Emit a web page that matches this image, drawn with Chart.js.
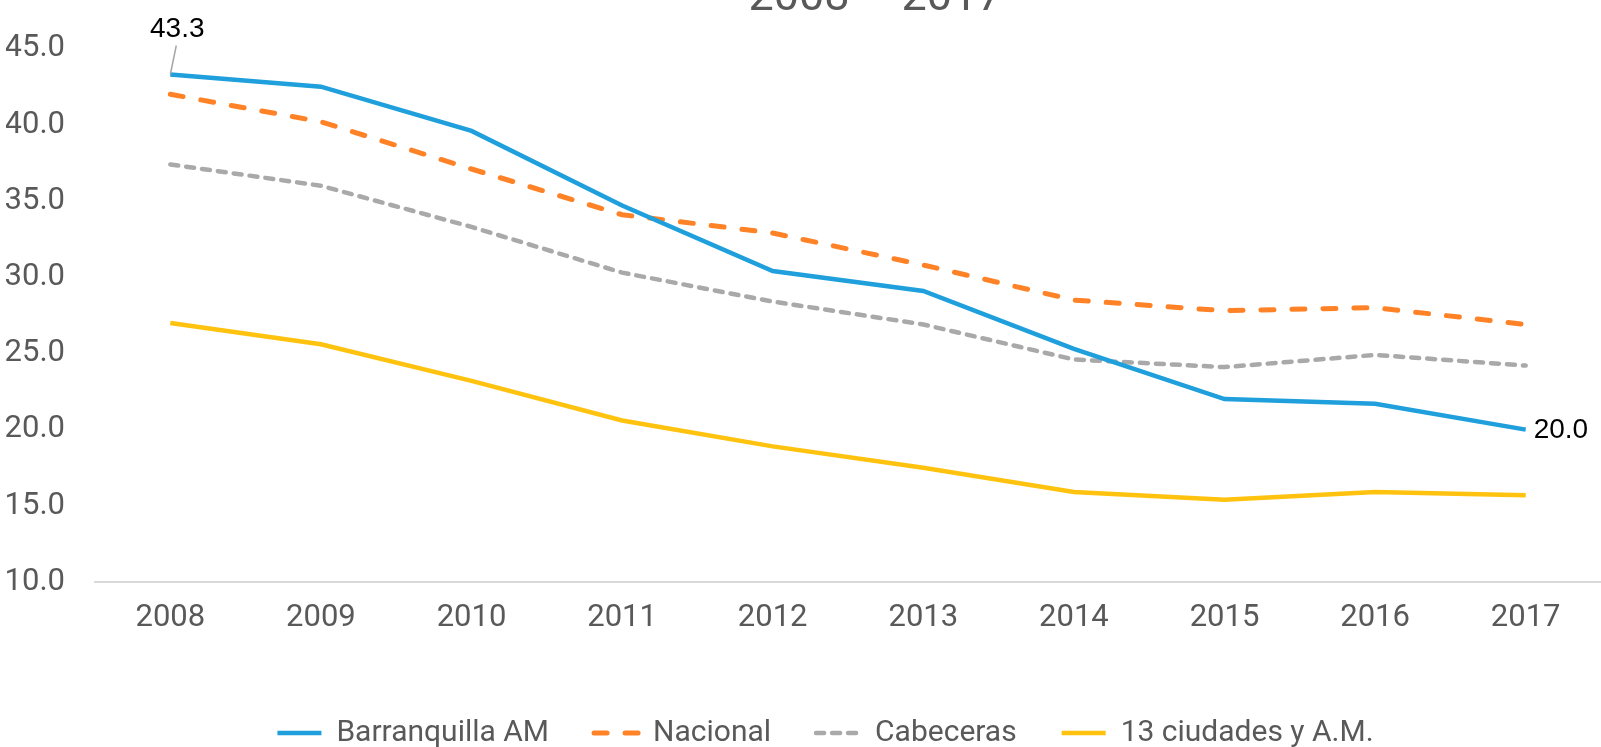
<!DOCTYPE html>
<html lang="es">
<head>
<meta charset="utf-8">
<title>Pobreza 2008 - 2017</title>
<script src="https://cdn.jsdelivr.net/npm/chart.js@4.4.1/dist/chart.umd.min.js"></script>
<style>
  html, body { margin: 0; padding: 0; background: #fff; overflow: hidden; }
  canvas { display: block; }
</style>
</head>
<body>
<canvas id="povertyChart" width="1601" height="747"></canvas>
<script>
  // data
  const years = ["2008", "2009", "2010", "2011", "2012", "2013", "2014", "2015", "2016", "2017"];
  const barranquilla = [43.3, 42.5, 39.6, 34.7, 30.4, 29.1, 25.3, 22.0, 21.7, 20.0];
  const nacional = [42.0, 40.2, 37.1, 34.1, 32.9, 30.8, 28.5, 27.8, 28.0, 26.9];
  const cabeceras = [37.4, 36.0, 33.3, 30.3, 28.4, 26.9, 24.6, 24.1, 24.9, 24.2];
  const ciudades13 = [27.0, 25.6, 23.2, 20.6, 18.9, 17.5, 15.9, 15.4, 15.9, 15.7];
  const seriesNames = ["Barranquilla AM", "Nacional", "Cabeceras", "13 ciudades y A.M."];
  const titleText = "2008 – 2017";

  const FONT = "Roboto, 'Liberation Sans', sans-serif";
  const GREY_TEXT = "#595959";

  // the legend sits a bit lower and right of where chart.js centres it
  const legendShift = {
    id: "legendShift",
    afterLayout(chart) {
      const lg = chart.legend;
      lg.top += 11; lg.bottom += 11;
      lg.left += 22; lg.right += 22;
    }
  };

  // first and last value labels of the Barranquilla line + partly cut title
  const labelPlugin = {
    id: "labelPlugin",
    afterDatasetsDraw(chart) {
      const ctx = chart.ctx;
      const pts = chart.getDatasetMeta(0).data;
      const first = pts[0], last = pts[pts.length - 1];
      ctx.save();
      // leader line
      ctx.strokeStyle = "#a6a6a6";
      ctx.lineWidth = 1.5;
      ctx.beginPath();
      ctx.moveTo(first.x, first.y);
      ctx.lineTo(first.x + 6, first.y - 29);
      ctx.stroke();
      ctx.fillStyle = "#000";
      ctx.font = "28px 'Liberation Sans', Arial, sans-serif";
      ctx.textAlign = "center";
      ctx.textBaseline = "middle";
      ctx.fillText(barranquilla[0].toFixed(1), first.x + 7, first.y - 45);
      ctx.textAlign = "left";
      ctx.fillText(barranquilla[barranquilla.length - 1].toFixed(1), last.x + 8, last.y + 1);
      // title, only its lower part shows
      ctx.fillStyle = GREY_TEXT;
      ctx.font = "45px " + FONT;
      ctx.textAlign = "center";
      ctx.textBaseline = "alphabetic";
      ctx.fillText(titleText, chart.width / 2 + 75, 10);
      ctx.restore();
    }
  };

  const ctx = document.getElementById("povertyChart").getContext("2d");
  const povertyChart = new Chart(ctx, {
    type: "line",
    data: {
      labels: years,
      datasets: [
        {
          label: seriesNames[0],
          data: barranquilla,
          borderColor: "#1f9fdb",
          backgroundColor: "#1f9fdb",
          borderWidth: 4.5
        },
        {
          label: seriesNames[1],
          data: nacional,
          borderColor: "#ff8226",
          backgroundColor: "#ff8226",
          borderWidth: 5,
          borderDash: [13, 18],
          borderCapStyle: "round"
        },
        {
          label: seriesNames[2],
          data: cabeceras,
          borderColor: "#a9a9a9",
          backgroundColor: "#a9a9a9",
          borderWidth: 4.5,
          borderDash: [8, 8],
          borderCapStyle: "round"
        },
        {
          label: seriesNames[3],
          data: ciudades13,
          borderColor: "#ffc20e",
          backgroundColor: "#ffc20e",
          borderWidth: 4.5
        }
      ]
    },
    options: {
      responsive: false,
      animation: false,
      devicePixelRatio: 1,
      elements: { point: { radius: 0, hoverRadius: 0 }, line: { tension: 0 } },
      layout: { padding: { top: 47, right: 0, left: 6, bottom: 0 } },
      plugins: {
        title: { display: false },
        tooltip: { enabled: false },
        legend: {
          position: "bottom",
          labels: {
            usePointStyle: true,
            pointStyle: "line",
            pointStyleWidth: 44,
            padding: 45,
            color: GREY_TEXT,
            font: { family: FONT, size: 30 },
            generateLabels(chart) {
              const items = Chart.defaults.plugins.legend.labels.generateLabels(chart);
              return items.map((item) => {
                const ds = chart.data.datasets[item.datasetIndex];
                item.lineDash = ds.borderDash || [];
                item.lineCap = ds.borderCapStyle || "butt";
                item.lineWidth = ds.borderWidth;
                item.strokeStyle = ds.borderColor;
                return item;
              });
            }
          }
        }
      },
      scales: {
        x: {
          offset: true,
          grid: { display: false, drawTicks: false },
          border: { display: true, color: "#d9d9d9", width: 2 },
          ticks: { color: GREY_TEXT, padding: 18, font: { family: FONT, size: 31 } },
          afterFit(scale) { scale.height = 80; }
        },
        y: {
          min: 10,
          max: 45,
          grid: { display: false, drawTicks: false },
          border: { display: false },
          ticks: {
            stepSize: 5,
            padding: 30,
            color: GREY_TEXT,
            font: { family: FONT, size: 31 },
            callback: (v) => Number(v).toFixed(1)
          },
          afterFit(scale) { scale.width = 89; }
        }
      }
    },
    plugins: [labelPlugin, legendShift]
  });
</script>
</body>
</html>
